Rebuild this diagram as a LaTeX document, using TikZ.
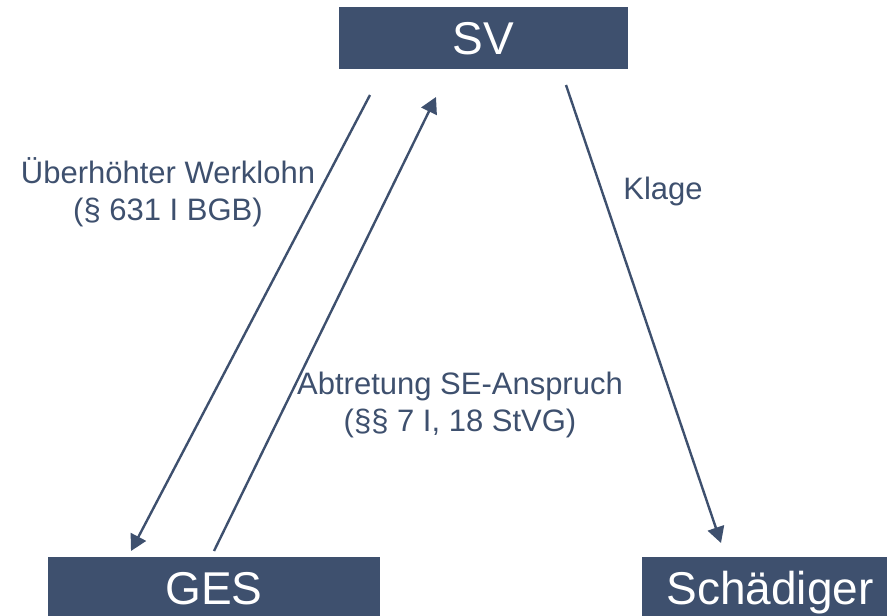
\documentclass[tikz,border=0pt]{standalone}
\usepackage{fontspec}
\setmainfont{Liberation Sans}
\usetikzlibrary{arrows.meta}
\definecolor{slate}{RGB}{62,80,110}

\begin{document}
\begin{tikzpicture}[x=1pt, y=-1pt,
                    box/.style = {fill=slate, text=white, inner sep=0, minimum height=62pt,
                                  text height=33pt, text depth=0pt, font=\fontsize{46}{55}\selectfont},
                    claim/.style = {text=slate, align=center, inner sep=0, font=\fontsize{31}{37}\selectfont},
                    arr/.style = {draw=slate, line width=2.4pt, -{Triangle[length=16pt, width=17pt]}}]
        \useasboundingbox (0,0) rectangle (887,616);
        \node[box, minimum width=289pt] (sv) at (483.5,38) {SV};
        \node[box, minimum width=332pt] (ges) at (214,588) {GES};
        \node[box, minimum width=256pt] (sch) at (770,588) {Schädiger};
        % arrow ends, kept off the boxes
        \coordinate (werkA) at (370,95);
        \coordinate (werkB) at (131,551);
        \coordinate (abtA) at (214,551);
        \coordinate (abtB) at (436,97);
        \coordinate (klageA) at (566,85);
        \coordinate (klageB) at (721,543);
        \draw[arr] (werkA) -- (werkB);
        \draw[arr] (abtA) -- (abtB);
        \draw[arr] (klageA) -- (klageB);
        \node[claim] (werk) at (168,192) {Überhöhter Werklohn\\(§ 631 I BGB)};
        \node[claim] (abt) at (460,405) {Abtretung SE-Anspruch\\(§§ 7 I, 18 StVG)};
        \node[claim] (klage) at (663,191) {Klage};
    \end{tikzpicture}
\end{document}
